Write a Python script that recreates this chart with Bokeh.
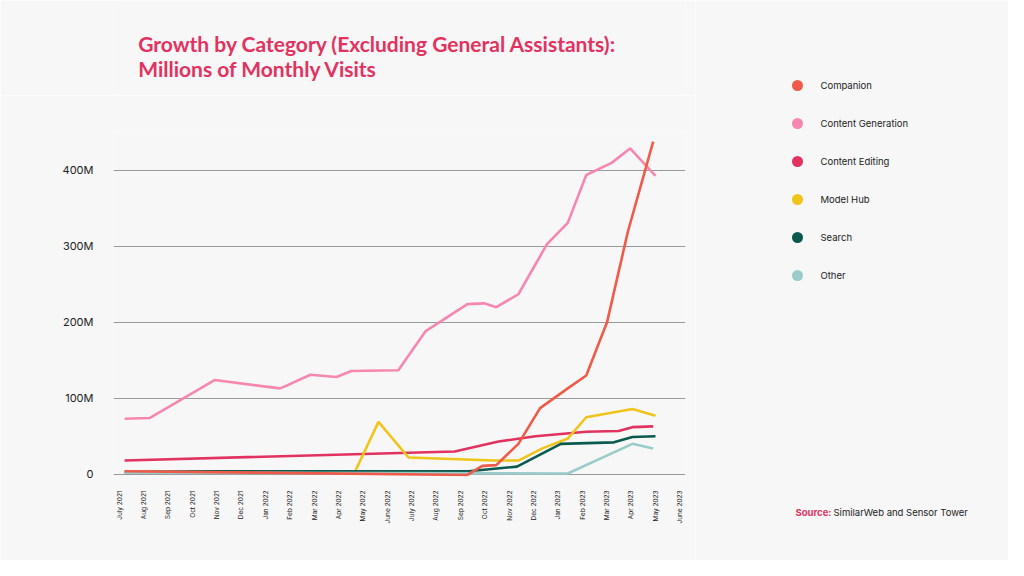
from bokeh.plotting import figure
from bokeh.models import FixedTicker
from bokeh.layouts import row, column
from bokeh.core.properties import value
from bokeh.embed import file_html
from bokeh.resources import INLINE
import math

months = ["July 2021","Aug 2021","Sep 2021","Oct 2021","Nov 2021","Dec 2021","Jan 2022","Feb 2022",
          "Mar 2022","Apr 2022","May 2022","June 2022","July 2022","Aug 2022","Sep 2022","Oct 2022",
          "Nov 2022","Dec 2022","Jan 2023","Feb 2023","Mar 2023","Apr 2023","May 2023","June 2023"]

gen_x = [0,1.08,3.9,6.73,6.97,8.05,9.18,9.83,11.86,13.03,14.85,15.58,16.1,17.06,18.3,19.2,20.0,21.1,21.9,23.0]
gen_y = [73,74,124,113,116,131,128,136,137,188,224,225,220,237,303,331,394,410,429,393]
comp_x = [0,14.85,15.5,16.1,17.06,18.0,19.2,20.0,20.9,21.8,22.9]
comp_y = [4,-1,11,12,40,87,113,130,200,319,438]
edit_x = [0,14.3,16.2,17.8,20.0,21.4,22.0,22.9]
edit_y = [18,30,43,50,56,57,62,63]
hub_x = [0,9.96,11.0,12.3,16.0,17.06,18.1,19.2,20.0,22.0,23.0]
hub_y = [3,2,69,22,18,18,34,47,75,86,77]
search_x = [0,3.6,14.9,17.0,18.9,21.2,22.0,23.0]
search_y = [3,4,4,10,40,42,49,50]
other_x = [0,19.2,22.0,22.9]
other_y = [2,1,40,34]

series = [
    ("Companion", comp_x, comp_y, "#f05a48"),
    ("Content Generation", gen_x, gen_y, "#f687b0"),
    ("Content Editing", edit_x, edit_y, "#e2325f"),
    ("Model Hub", hub_x, hub_y, "#f0c419"),
    ("Search", search_x, search_y, "#0b5a4f"),
    ("Other", other_x, other_y, "#9ccbcb"),
]
draw_order = [1, 2, 3, 4, 5, 0]
title_lines = ["Growth by Category (Excluding General Assistants):", "Millions of Monthly Visits"]
source_label = "Source:"
source_text = "SimilarWeb and Sensor Tower"

bg = "#f7f7f7"
title_col = "#e2325f"
txt_col = "#222222"

def blank(w, h, xr, yr):
    f = figure(width=w, height=h, x_range=xr, y_range=yr, output_backend="svg",
               toolbar_location=None, min_border=0, background_fill_color=bg,
               border_fill_color=bg, outline_line_color=None)
    f.axis.visible = False
    f.grid.visible = False
    return f

# title
t = blank(695, 95, (8, 703), (103, 8))
t.text(x=[38, 38], y=[38, 63], text=title_lines, text_font=value("Lato"),
       text_font_style="bold", text_font_size="21px", text_color=title_col,
       text_baseline="top")

# chart
p = figure(width=695, height=465, output_backend="svg", toolbar_location=None,
           x_range=(-0.48, 24.3), y_range=(-3, 450),
           frame_width=572, frame_height=344,
           min_border_left=113, min_border_top=37, min_border_right=10, min_border_bottom=84,
           background_fill_color=bg, border_fill_color=bg, outline_line_color=None)
for idx in draw_order:
    name, xs, ys, col = series[idx]
    p.line(xs, ys, line_color=col, line_width=2.6)

p.xgrid.grid_line_color = None
p.ygrid.grid_line_color = "#999999"
p.yaxis.ticker = FixedTicker(ticks=[0, 100, 200, 300, 400])
p.yaxis.major_label_overrides = {0: "0", 100: "100M", 200: "200M", 300: "300M", 400: "400M"}
p.yaxis.axis_line_color = None
p.yaxis.major_tick_line_color = None
p.yaxis.minor_tick_line_color = None
p.yaxis.major_label_text_font = "Inter"
p.yaxis.major_label_text_font_size = "11px"
p.yaxis.major_label_text_color = txt_col
p.yaxis.major_label_standoff = 14

ticks = [-0.216 + 1.056 * k for k in range(len(months))]
p.xaxis.ticker = FixedTicker(ticks=ticks)
p.xaxis.major_label_overrides = {t_: m for t_, m in zip(ticks, months)}
p.xaxis.major_label_orientation = math.pi / 2
p.xaxis.axis_line_color = None
p.xaxis.major_tick_line_color = None
p.xaxis.minor_tick_line_color = None
p.xaxis.major_label_text_font = "Inter"
p.xaxis.major_label_text_font_size = "6.5px"
p.xaxis.major_label_text_color = txt_col
p.xaxis.major_label_standoff = 8

# legend + source panel
r = blank(313, 560, (703, 1016), (568, 8))
names = [s[0] for s in series]
cols = [s[3] for s in series]
ly = [93 + 38 * i for i in range(len(series))]
r.scatter(x=[805] * len(series), y=ly, size=11, fill_color=cols, line_color=None)
r.text(x=[828] * len(series), y=ly, text=names, text_font=value("Inter"),
       text_font_size="9.5px", text_color=txt_col, text_baseline="middle")
r.text(x=[803], y=[520], text=[source_label], text_font=value("Inter"), text_font_style="bold",
       text_font_size="9.5px", text_color=title_col, text_baseline="middle")
r.text(x=[841], y=[520], text=[source_text], text_font=value("Inter"),
       text_font_size="9.5px", text_color=txt_col, text_baseline="middle")

layout = row(column(t, p, spacing=0), r, spacing=0)
open("out.html", "w").write(file_html(layout, INLINE))
